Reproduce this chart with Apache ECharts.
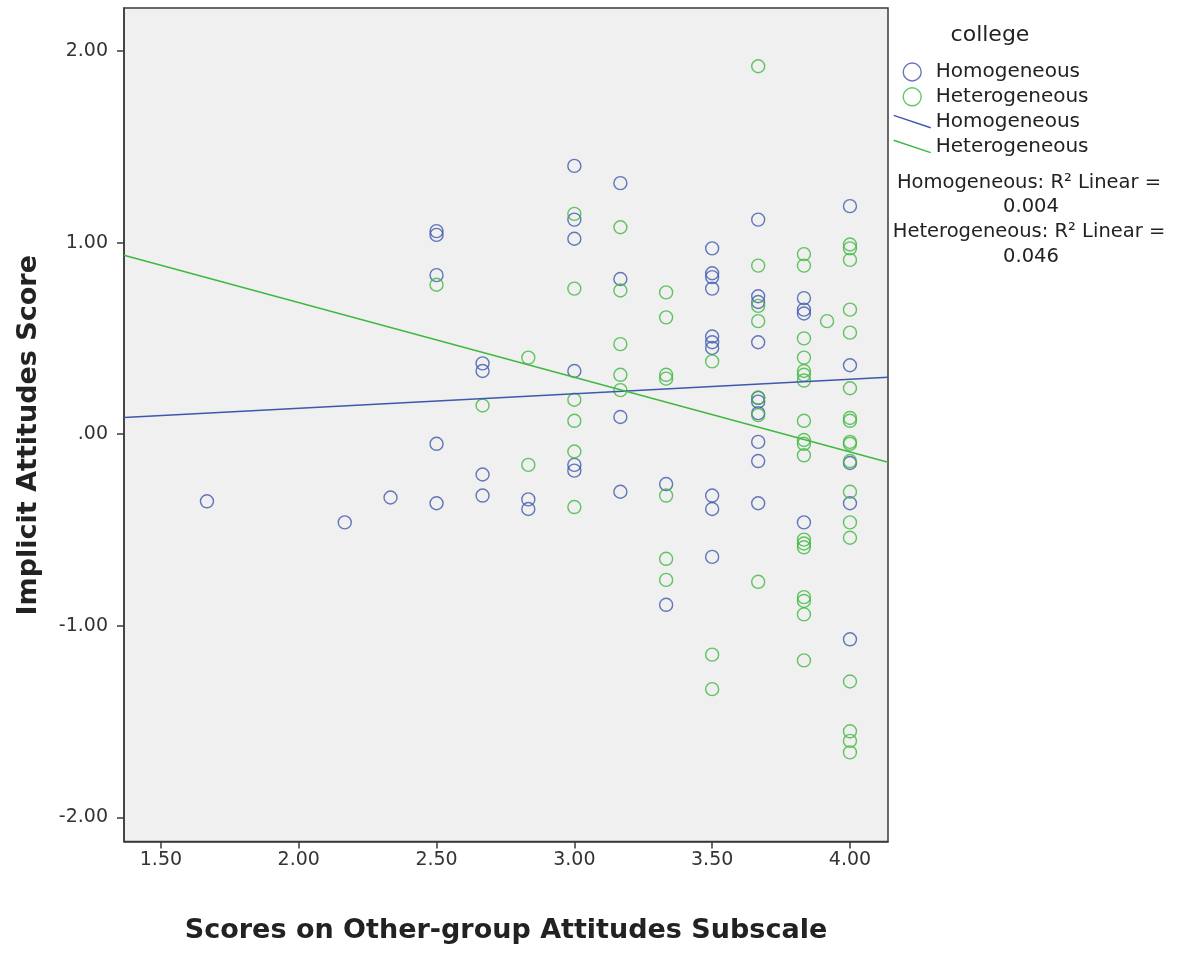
<!DOCTYPE html>
<html>
<head>
<meta charset="utf-8">
<script src="https://cdn.jsdelivr.net/npm/echarts@6/dist/echarts.min.js"></script>
<style>
html,body{margin:0;padding:0;background:#fff;}
#chart{width:1180px;height:953px;}
</style>
</head>
<body>
<div id="chart"></div>
<script>
// ---- data ----
const homogeneous = [
  [1.667,-0.35],
  [2.167,-0.46],
  [2.333,-0.33],
  [2.5,1.06],[2.5,1.04],[2.5,0.83],[2.5,-0.05],[2.5,-0.36],
  [2.667,0.37],[2.667,0.33],[2.667,-0.21],[2.667,-0.32],
  [2.833,-0.34],[2.833,-0.39],
  [3.0,1.40],[3.0,1.12],[3.0,1.02],[3.0,0.33],[3.0,-0.16],[3.0,-0.19],
  [3.167,1.31],[3.167,0.81],[3.167,0.09],[3.167,-0.30],
  [3.333,-0.26],[3.333,-0.89],
  [3.5,0.97],[3.5,0.84],[3.5,0.82],[3.5,0.76],[3.5,0.51],[3.5,0.48],[3.5,0.45],[3.5,-0.32],[3.5,-0.39],[3.5,-0.64],
  [3.667,1.12],[3.667,0.72],[3.667,0.69],[3.667,0.48],[3.667,0.19],[3.667,0.17],[3.667,0.11],[3.667,-0.04],[3.667,-0.14],[3.667,-0.36],
  [3.833,0.71],[3.833,0.65],[3.833,0.63],[3.833,-0.46],
  [4.0,1.19],[4.0,0.36],[4.0,-0.15],[4.0,-0.36],[4.0,-1.07]
];
const heterogeneous = [
  [2.5,0.78],
  [2.667,0.15],
  [2.833,0.40],[2.833,-0.16],
  [3.0,1.15],[3.0,0.76],[3.0,0.18],[3.0,0.07],[3.0,-0.09],[3.0,-0.38],
  [3.167,1.08],[3.167,0.75],[3.167,0.47],[3.167,0.31],[3.167,0.23],
  [3.333,0.74],[3.333,0.61],[3.333,0.31],[3.333,0.29],[3.333,-0.32],[3.333,-0.65],[3.333,-0.76],
  [3.5,0.38],[3.5,-1.15],[3.5,-1.33],
  [3.667,1.92],[3.667,0.88],[3.667,0.67],[3.667,0.59],[3.667,0.19],[3.667,0.10],[3.667,-0.77],
  [3.833,0.94],[3.833,0.88],[3.833,0.50],[3.833,0.40],[3.833,0.33],[3.833,0.31],[3.833,0.28],[3.833,0.07],[3.833,-0.03],[3.833,-0.05],[3.833,-0.11],[3.833,-0.55],[3.833,-0.57],[3.833,-0.59],[3.833,-0.85],[3.833,-0.87],[3.833,-0.94],[3.833,-1.18],
  [3.917,0.59],
  [4.0,0.99],[4.0,0.97],[4.0,0.91],[4.0,0.65],[4.0,0.53],[4.0,0.24],[4.0,0.085],[4.0,0.07],[4.0,-0.04],[4.0,-0.05],[4.0,-0.14],[4.0,-0.30],[4.0,-0.46],[4.0,-0.54],[4.0,-1.29],[4.0,-1.55],[4.0,-1.60],[4.0,-1.66]
];
// fit lines (endpoints at the plot edges)
const homogeneousFit = [[1.366,0.087],[4.138,0.297]];
const heterogeneousFit = [[1.366,0.934],[4.138,-0.146]];
const xTickValues = [1.5,2.0,2.5,3.0,3.5,4.0];
const xTickLabels = ['1.50','2.00','2.50','3.00','3.50','4.00'];
const yTickValues = [-2,-1,0,1,2];
const yTickLabels = ['-2.00','-1.00','.00','1.00','2.00'];
const groupNames = ['Homogeneous','Heterogeneous'];
const rSquared = ['0.004','0.046'];

const BLUE = '#3e58ac';
const GREEN = '#3fb83f';
const FONT = 'DejaVu Sans';

function pick(values, labels, v){
  let best = 0, d = Infinity;
  values.forEach((t,i)=>{ const dd = Math.abs(t-v); if(dd<d){d=dd;best=i;} });
  return labels[best];
}

const chart = echarts.init(document.getElementById('chart'));
const hollow = c => ({color:'rgba(0,0,0,0)', borderColor:c, borderWidth:1.4});

chart.setOption({
  backgroundColor:'#fff',
  animation:false,
  grid:{left:124, top:8, right:292, bottom:111.5, show:true, backgroundColor:'#f0f0f0', borderColor:'#3a3a3a', borderWidth:1.5},
  xAxis:{
    type:'value', min:1.366, max:4.138,
    name:'Scores on Other-group Attitudes Subscale', nameLocation:'middle', nameGap:76,
    nameTextStyle:{fontFamily:FONT, fontWeight:'bold', fontSize:27, color:'#222'},
    axisLine:{show:true, onZero:false, lineStyle:{color:'#3a3a3a', width:1.5}},
    axisTick:{show:true, length:7, lineStyle:{color:'#3a3a3a', width:1.5}, customValues:xTickValues},
    axisLabel:{margin:9, fontFamily:FONT, fontSize:19, color:'#333', customValues:xTickValues,
      formatter:v=>pick(xTickValues,xTickLabels,v)},
    splitLine:{show:false}
  },
  yAxis:{
    type:'value', min:-2.125, max:2.224,
    name:'Implicit Attitudes Score', nameLocation:'middle', nameGap:82,
    nameTextStyle:{fontFamily:FONT, fontWeight:'bold', fontSize:27, color:'#222', padding:[0,21,0,0]},
    axisLine:{show:true, onZero:false, lineStyle:{color:'#3a3a3a', width:1.5}},
    axisTick:{show:true, length:7, lineStyle:{color:'#3a3a3a', width:1.5}, customValues:yTickValues},
    axisLabel:{margin:16, fontFamily:FONT, fontSize:19, color:'#333', customValues:yTickValues,
      formatter:v=>pick(yTickValues,yTickLabels,v)},
    splitLine:{show:false}
  },
  legend:{
    orient:'vertical', left:888, top:57, itemWidth:37, itemHeight:18, itemGap:4.8,
    textStyle:{fontFamily:FONT, fontSize:20, color:'#222'},
    formatter:n=>n.replace(' fit',''),
    selectedMode:false,
    data:[
      {name:groupNames[0], icon:'circle', itemStyle:hollow(BLUE)},
      {name:groupNames[1], icon:'circle', itemStyle:hollow(GREEN)},
      {name:groupNames[0]+' fit', icon:'path://M0,0L36,12', itemStyle:{color:'rgba(0,0,0,0)', borderColor:BLUE, borderWidth:1.4}},
      {name:groupNames[1]+' fit', icon:'path://M0,0L36,12', itemStyle:{color:'rgba(0,0,0,0)', borderColor:GREEN, borderWidth:1.4}}
    ]
  },
  graphic:[
    {type:'text', style:{text:'college', x:990, y:35, fill:'#222', font:'22px "DejaVu Sans"', align:'center', verticalAlign:'middle'}},
    {type:'text', style:{text:groupNames[0]+': R\u00b2 Linear =', x:1029, y:183, fill:'#222', font:'19.5px "DejaVu Sans"', align:'center', verticalAlign:'middle'}},
    {type:'text', style:{text:rSquared[0], x:1031, y:207, fill:'#222', font:'19.5px "DejaVu Sans"', align:'center', verticalAlign:'middle'}},
    {type:'text', style:{text:groupNames[1]+': R\u00b2 Linear =', x:1029, y:232, fill:'#222', font:'19.5px "DejaVu Sans"', align:'center', verticalAlign:'middle'}},
    {type:'text', style:{text:rSquared[1], x:1031, y:257, fill:'#222', font:'19.5px "DejaVu Sans"', align:'center', verticalAlign:'middle'}}
  ],
  series:[
    {name:groupNames[0], type:'scatter', data:homogeneous, symbol:'circle', symbolSize:13, itemStyle:hollow(BLUE), z:3},
    {name:groupNames[1], type:'scatter', data:heterogeneous, symbol:'circle', symbolSize:13, itemStyle:hollow(GREEN), z:3},
    {name:groupNames[0]+' fit', type:'line', data:homogeneousFit, symbol:'none', lineStyle:{color:BLUE, width:1.4}, itemStyle:{color:BLUE}, z:4},
    {name:groupNames[1]+' fit', type:'line', data:heterogeneousFit, symbol:'none', lineStyle:{color:GREEN, width:1.4}, itemStyle:{color:GREEN}, z:4}
  ]
});
</script>
</body>
</html>
